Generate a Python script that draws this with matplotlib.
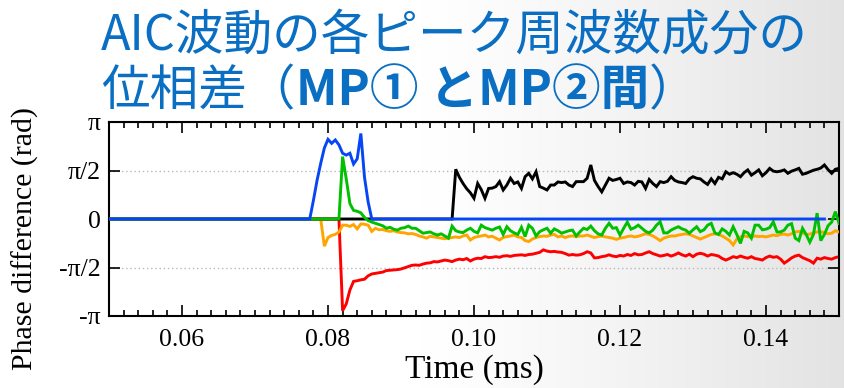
import numpy as np
import matplotlib
matplotlib.use("Agg")
import matplotlib.pyplot as plt
from matplotlib.ticker import MultipleLocator, FixedLocator

# ---- time base -------------------------------------------------------------
T_BEGIN = 0.05      # ms, left edge of the record
DT = 0.0005         # ms, sample spacing
SEG_START = 0.0775  # ms, first sample of the listed segments below
BLUE_END = 0.148    # ms, last sample of the blue trace

# ---- phase differences (rad), sampled every DT from SEG_START ---------------
blue_seg = [0.0, 0.6, 1.25, 1.8, 2.3, 2.58, 2.45, 2.56, 2.40, 2.13,
            2.07, 2.13, 1.78, 1.95, 2.77, 1.35, 0.55, 0.0]

green_seg = [0.0] * 9 + [
    2.02, 1.3, 0.5, 0.28, 0.25, 0.2, 0.05, -0.05, -0.1, -0.14,
    -0.18, -0.22, -0.3, -0.27, -0.33, -0.36, -0.3, -0.28, -0.23, -0.3,
    -0.3, -0.38, -0.46, -0.44, -0.42, -0.48, -0.52, -0.48, -0.55, -0.62,
    -0.23, -0.38, -0.42, -0.44, -0.36, -0.3, -0.4, -0.45, -0.2, -0.28,
    -0.32, -0.36, -0.3, -0.26, -0.5, -0.25, -0.38, -0.45, -0.5, -0.27,
    -0.57, -0.2, -0.3, -0.55, -0.41, -0.35, -0.3, -0.46, -0.32, -0.38,
    -0.46, -0.42, -0.38, -0.36, -0.55, -0.42, -0.3, -0.34, -0.23, -0.38,
    -0.48, -0.52, -0.3, -0.14, -0.3, -0.28, -0.52, -0.3, -0.1, -0.33,
    -0.28, -0.2, -0.3, -0.4, -0.45, -0.36, -0.2, -0.09, -0.45, -0.45,
    -0.36, -0.3, -0.25, -0.32, -0.36, -0.46, -0.35, -0.25, -0.41, -0.35,
    -0.2, -0.14, -0.45, -0.5, -0.32, -0.4, -0.52, -0.25, -0.5, -0.79,
    -0.4, -0.45, -0.62, -0.2, -0.2, -0.35, -0.33, -0.28, -0.09, -0.42,
    -0.42, -0.36, -0.2, -0.15, -0.62, -0.7, -0.3, -0.5, -0.75, -0.5,
    0.19, -0.7, -0.5, -0.22, -0.1, 0.24, -0.14]

orange_seg = [0.0] * 4 + [
    -0.88, -0.6, -0.53, -0.5, -0.42, -0.2, -0.2, -0.24, -0.18, -0.32,
    -0.16, -0.17, -0.2, -0.4, -0.3, -0.35, -0.34, -0.38, -0.4, -0.38,
    -0.42, -0.44, -0.45, -0.48, -0.47, -0.5, -0.55, -0.58, -0.62, -0.56,
    -0.58, -0.6, -0.62, -0.64, -0.62, -0.6,
    -0.58, -0.6, -0.55, -0.52, -0.68, -0.6, -0.57, -0.55, -0.52, -0.58,
    -0.56, -0.62, -0.68, -0.6, -0.57, -0.55, -0.52, -0.58, -0.6, -0.7,
    -0.73, -0.65, -0.6, -0.57, -0.55, -0.56, -0.52, -0.5, -0.58, -0.55,
    -0.6, -0.56, -0.55, -0.57, -0.55,
    -0.55, -0.52, -0.56, -0.6, -0.57, -0.55, -0.58, -0.6, -0.62, -0.66,
    -0.62, -0.6, -0.57, -0.55, -0.58, -0.56, -0.52, -0.48, -0.5, -0.55,
    -0.62, -0.7, -0.62, -0.58, -0.55, -0.55, -0.52, -0.5, -0.48, -0.5,
    -0.55, -0.6,
    -0.65, -0.6, -0.55, -0.5, -0.48, -0.5, -0.55, -0.62, -0.7, -0.84,
    -0.65, -0.58, -0.55, -0.57, -0.58, -0.55, -0.57, -0.56, -0.58, -0.55,
    -0.52, -0.54, -0.5, -0.49, -0.52, -0.48, -0.42, -0.4, -0.45, -0.5,
    -0.49, -0.45, -0.42, -0.41, -0.44, -0.48, -0.46, -0.38, -0.42]

red_seg = [0.0] * 9 + [
    -2.97, -2.75, -2.3, -2.02, -2.0, -1.97, -1.95, -1.84, -1.78, -1.76,
    -1.74, -1.72, -1.67, -1.66, -1.65, -1.64, -1.62, -1.58, -1.54, -1.5,
    -1.49, -1.5, -1.46, -1.43, -1.42, -1.38, -1.39, -1.36, -1.33, -1.35,
    -1.38, -1.33, -1.3, -1.32, -1.28, -1.36, -1.3, -1.27, -1.28, -1.22,
    -1.25, -1.24, -1.22, -1.24, -1.2, -1.19, -1.21, -1.18, -1.17, -1.16,
    -1.18, -1.15, -1.14, -1.11, -1.08, -1.0, -1.04, -1.06, -1.05, -1.07,
    -1.08, -1.12, -1.17, -1.15, -1.17, -1.16,
    -1.12, -1.06, -1.1, -1.26, -1.25, -1.22, -1.2, -1.16, -1.2, -1.22,
    -1.18, -1.2, -1.15, -1.18, -1.12, -1.16, -1.15, -1.1, -1.06, -1.12,
    -1.16, -1.2, -1.18, -1.15, -1.2, -1.16, -1.1, -1.16, -1.2, -1.14,
    -1.22, -1.14,
    -1.11, -1.14, -1.2, -1.15, -1.17, -1.2, -1.28, -1.33, -1.28, -1.22,
    -1.25, -1.2, -1.24, -1.27, -1.22, -1.28, -1.3, -1.33, -1.25, -1.2,
    -1.24, -1.22, -1.3, -1.43, -1.35, -1.26, -1.2, -1.17, -1.25, -1.3,
    -1.35, -1.43, -1.27, -1.3, -1.25, -1.28, -1.3, -1.25, -1.22]

black_seg = [0.0] * 40 + [
    1.61, 1.35, 1.15, 0.98, 0.85, 0.67, 1.15, 0.95, 0.67, 0.99,
    1.0, 1.05, 1.21, 0.94, 1.1, 1.32, 1.15, 1.2, 0.99, 1.37,
    1.48, 1.3, 1.53, 1.05, 1.0, 0.94, 1.1, 1.1, 1.2, 1.18,
    1.2, 1.1, 1.05, 1.21, 1.21, 1.21, 1.32, 1.75, 1.25, 1.05,
    0.88, 1.1, 1.32, 1.25, 1.28, 1.32, 1.15, 1.2, 1.18, 1.1,
    1.22, 1.2, 0.99, 1.28, 1.15, 1.05, 1.21, 1.18, 1.22, 1.37,
    1.25, 1.2, 1.18, 1.15, 1.3, 1.37, 1.32, 1.3, 1.2, 1.12,
    1.3, 1.15, 1.35, 1.3, 1.53, 1.45, 1.5, 1.45, 1.37, 1.5,
    1.59, 1.42, 1.5, 1.59, 1.4, 1.5, 1.64, 1.55, 1.53, 1.55,
    1.59, 1.48, 1.55, 1.59, 1.64, 1.45, 1.48, 1.53, 1.58, 1.61,
    1.65, 1.75, 1.6, 1.48, 1.61, 1.64]

x_ticks = [0.06, 0.08, 0.10, 0.12, 0.14]
x_tick_labels = ["0.06", "0.08", "0.10", "0.12", "0.14"]
y_ticks = [-np.pi, -np.pi / 2, 0.0, np.pi / 2, np.pi]
y_tick_labels = ["-\u03c0", "-\u03c0/2", "0", "\u03c0/2", "\u03c0"]

title_line1 = "AIC波動の各ピーク周波数成分の"
title_line2 = [("位相差（", "normal"), ("MP① とMP②間", "bold"), ("）", "normal")]


def series(seg, t_end=None):
    """Zero lead-in from T_BEGIN, then the listed samples."""
    lead = int(round((SEG_START - T_BEGIN) / DT))
    vals = np.concatenate([np.zeros(lead), np.asarray(seg, dtype=float)])
    if t_end is not None:
        n = int(round((t_end - T_BEGIN) / DT)) + 1
        if vals.size < n:
            vals = np.concatenate([vals, np.zeros(n - vals.size)])
    t = T_BEGIN + DT * np.arange(vals.size)
    return t, vals


W, H = 844, 388
fig = plt.figure(figsize=(W / 100, H / 100), dpi=100)

# slide background: white fading to light grey on the right
bg = fig.add_axes([0, 0, 1, 1], zorder=-10)
xs = np.linspace(0, 1, 400)
shade = np.clip((xs - 0.5) / 0.5, 0, 1)
col = 1.0 - 0.11 * shade ** 1.2
img = np.tile(col, (10, 1))
bg.imshow(np.dstack([img, img, img]), aspect="auto", extent=[0, 1, 0, 1])
bg.set_axis_off()

serif = ["Liberation Serif", "DejaVu Serif"]
ax = fig.add_axes([109 / W, 1 - 316 / H, 730 / W, 194 / H])
ax.set_facecolor("none")

lw = 2.1
for seg, color, z, t_end in [
    (red_seg, "#ff0000", 2, None),
    (orange_seg, "#ffa500", 3, None),
    (black_seg, "#000000", 4, None),
    (green_seg, "#00c000", 5, None),
    (blue_seg, "#0646f5", 6, BLUE_END),
]:
    t, v = series(seg, t_end)
    ax.plot(t, v, color=color, lw=lw, zorder=z, solid_joinstyle="miter")

ax.set_xlim(0.05, 0.15)
ax.set_ylim(-np.pi, np.pi)
ax.xaxis.set_major_locator(FixedLocator(x_ticks))
ax.set_xticklabels(x_tick_labels)
ax.xaxis.set_minor_locator(MultipleLocator(0.002))
ax.yaxis.set_major_locator(FixedLocator(y_ticks))
ax.set_yticklabels(y_tick_labels)

ax.grid(axis="y", which="major", linestyle=(0, (1, 2)), color="#b8b8b8", lw=1.0, zorder=0)
ax.tick_params(which="both", direction="in", top=True, right=True, width=1.2,
               labelsize=18.5, colors="black")
ax.tick_params(which="major", length=8)
ax.tick_params(which="minor", length=4.5)
ax.tick_params(axis="x", pad=9)
ax.tick_params(axis="y", pad=6)
for lab in ax.get_xticklabels() + ax.get_yticklabels():
    lab.set_family(serif)
for sp in ax.spines.values():
    sp.set_linewidth(1.5)

ax.set_xlabel("Time (ms)", family=serif, fontsize=24, labelpad=3)
fig.text(25 / W, 1 - 238 / H, "Phase difference (rad)", family=serif, fontsize=21.5,
         rotation=90, ha="center", va="center")

# two-line title
blue_title = "#0a6fc2"
jp = ["Noto Sans CJK JP", "DejaVu Sans"]
fig.text(101 / W, 1 - 50 / H, title_line1, fontsize=35, color=blue_title,
         family=jp, va="baseline")
renderer = fig.canvas.get_renderer()
x = 101 / W
for txt, weight in title_line2:
    t = fig.text(x, 1 - 105 / H, txt, fontsize=35, color=blue_title, family=jp,
                 fontweight=weight, va="baseline")
    bb = t.get_window_extent(renderer)
    x = bb.x1 / fig.bbox.width

fig.savefig("out.png", dpi=100)
